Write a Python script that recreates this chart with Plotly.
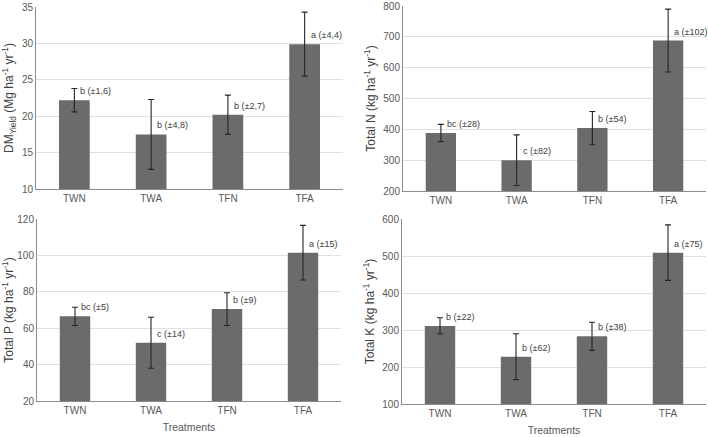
import plotly.graph_objects as go

treatments = ["TWN", "TWA", "TFN", "TFA"]

dm_yield = [22.2, 17.5, 20.2, 29.9]
dm_err = [1.6, 4.8, 2.7, 4.4]
dm_letters = ["b", "b", "b", "a"]
dm_err_labels = ["1,6", "4,8", "2,7", "4,4"]

total_n = [388, 300, 404, 688]
n_err = [28, 82, 54, 102]
n_letters = ["bc", "c", "b", "a"]

total_p = [66.5, 52, 70.5, 101.5]
p_err = [5, 14, 9, 15]
p_letters = ["bc", "c", "b", "a"]

total_k = [311, 228, 283, 509]
k_err = [22, 62, 38, 75]
k_letters = ["b", "b", "b", "a"]

panels = [
    dict(vals=dm_yield, err=dm_err, letters=dm_letters, errlab=dm_err_labels,
         rng=[10, 35], dtick=5,
         title="DM<sub>Yield</sub> (Mg ha<sup>-1</sup> yr<sup>-1</sup>)",
         xd=[36/708, 343/708], yd=[1-189/437, 1-7/437], xtitle=None),
    dict(vals=total_n, err=n_err, letters=n_letters, errlab=[str(e) for e in n_err],
         rng=[200, 800], dtick=100,
         title="Total N (kg ha<sup>-1</sup> yr<sup>-1</sup>)",
         xd=[403/708, 706/708], yd=[1-191/437, 1-6/437], xtitle=None),
    dict(vals=total_p, err=p_err, letters=p_letters, errlab=[str(e) for e in p_err],
         rng=[20, 120], dtick=20,
         title="Total P (kg ha<sup>-1</sup> yr<sup>-1</sup>)",
         xd=[37/708, 341/708], yd=[1-401/437, 1-219/437], xtitle="Treatments"),
    dict(vals=total_k, err=k_err, letters=k_letters, errlab=[str(e) for e in k_err],
         rng=[100, 600], dtick=100,
         title="Total K (kg ha<sup>-1</sup> yr<sup>-1</sup>)",
         xd=[402/708, 706/708], yd=[1-404/437, 1-219/437], xtitle="Treatments"),
]

fam = "Liberation Sans, Arial, sans-serif"
tickfont = dict(family=fam, size=10, color="#595959")
fig = go.Figure()
annotations = []

for i, p in enumerate(panels):
    n = "" if i == 0 else str(i + 1)
    xa, ya = "x" + n, "y" + n
    fig.add_trace(go.Bar(
        x=treatments, y=p["vals"], xaxis=xa, yaxis=ya, width=0.4,
        marker=dict(color="#6b6b6b", line=dict(width=0)),
        error_y=dict(type="data", array=p["err"], color="#262626", thickness=1.1, width=3),
        showlegend=False,
    ))
    for t, v, let, el in zip(treatments, p["vals"], p["letters"], p["errlab"]):
        annotations.append(dict(
            x=t, y=v, xref=xa, yref=ya, text=f"{let} (±{el})", showarrow=False,
            xanchor="left", yanchor="bottom", xshift=4, yshift=2,
            font=dict(family=fam, size=9, color="#404040"),
        ))
    xaxis = dict(domain=p["xd"], anchor=ya, type="category", automargin=False,
                 range=[-0.5, 3.5], showline=True, linecolor="#8c8c8c",
                 linewidth=1, ticks="", tickfont=tickfont, showgrid=False)
    if p["xtitle"]:
        xaxis["title"] = dict(text=p["xtitle"], font=dict(family=fam, size=10.5, color="#595959"),
                              standoff=8)
    yaxis = dict(domain=p["yd"], anchor=xa, range=p["rng"], dtick=p["dtick"], automargin=False,
                 showline=True, linecolor="#8c8c8c", linewidth=1,
                 showgrid=True, gridcolor="#e0e0e0", gridwidth=1,
                 ticks="", tickfont=tickfont, zeroline=False,
                 title=dict(text=p["title"], font=dict(family=fam, size=12, color="#404040"),
                            standoff=5))
    fig.update_layout(**{"xaxis" + n: xaxis, "yaxis" + n: yaxis})

fig.update_layout(
    width=708, height=437, margin=dict(l=0, r=0, t=0, b=0),
    paper_bgcolor="white", plot_bgcolor="white",
    annotations=annotations,
)

fig.write_html("out.html", config={"displayModeBar": False},
               post_script="document.body.style.margin='0';document.body.style.overflow='hidden';")
